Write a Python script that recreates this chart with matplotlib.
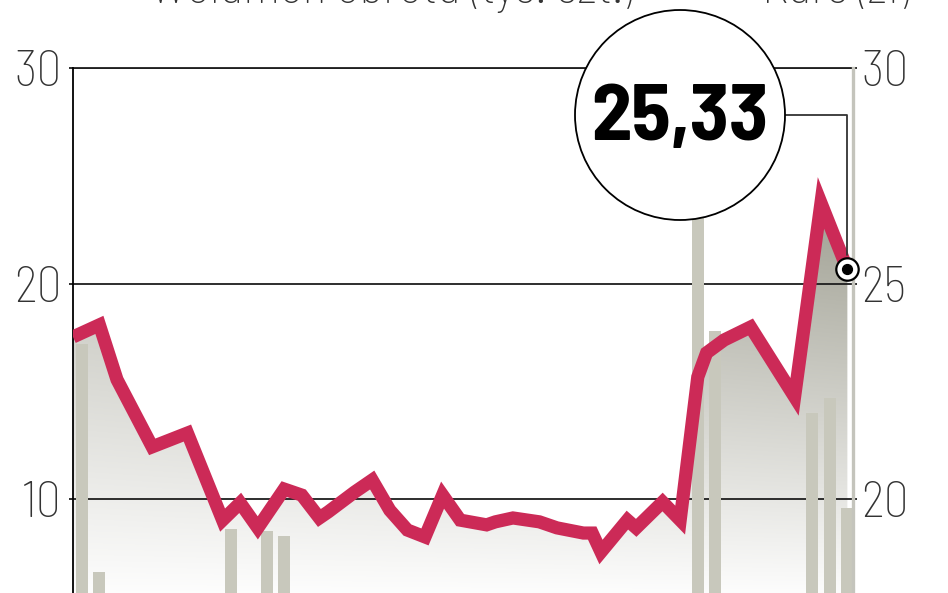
import numpy as np
from matplotlib import pyplot as plt
from matplotlib import rcParams
from matplotlib import font_manager as fontm
from matplotlib.patches import Ellipse

# DIN-like faces if present, otherwise something narrow-ish
names = {f.name for f in fontm.fontManager.ttflist}

def pick(cands):
  for c in cands:
    if c in names:
      return c
  return 'DejaVu Sans'

FACE = pick(['Barlow Semi Condensed', 'Barlow Condensed', 'Roboto Condensed',
             'Liberation Sans Narrow', 'Roboto'])
CONDENSED = FACE not in ('Roboto', 'DejaVu Sans')
TICK_SIZE = 36 if CONDENSED else 29
HEAD_SIZE = 36 if CONDENSED else 25
BIG_SIZE = 58 if CONDENSED else 46

rcParams.update({
  'font.family': [FACE, 'DejaVu Sans'],
  'axes.linewidth': 1.3,
})

RED = '#cc2a57'
BAR = '#c8c8bc'
GRID = '#1e1e1e'
TICK = '#333333'

# session number, share price (zl) -> right axis
days = [0, 3, 5, 9, 13, 17, 19, 21, 24, 26, 28, 29, 32, 34, 36, 38, 40, 42, 44,
        47, 48, 50, 53, 55, 58, 59, 60, 63, 64, 67, 69, 71, 72, 74, 77, 82, 85, 88]
kurs = [23.76, 24.04, 22.77, 21.21, 21.53, 19.51, 19.91, 19.33, 20.23, 20.09,
        19.56, 19.70, 20.16, 20.44, 19.74, 19.28, 19.12, 20.09, 19.51, 19.40,
        19.47, 19.56, 19.47, 19.33, 19.21, 19.21, 18.77, 19.51, 19.33, 19.93,
        19.51, 22.83, 23.39, 23.69, 23.99, 22.37, 26.87, 25.33]

# volume (tys. szt.) -> left axis
vol_days = [1, 3, 18, 22, 24, 71, 73, 84, 86, 88]
volume = [17.2, 6.6, 8.6, 8.5, 8.3, 24.0, 17.8, 14.0, 14.7, 9.6]

left_ticks = [10, 20, 30]
right_ticks = [20, 25, 30]
XMAX = 88.64

fig = plt.figure(figsize=(9.48, 5.93), dpi=100)
fig.patch.set_facecolor('white')

# axes runs below the cropped bottom edge, as in the original cut-out
rect = [73 / 948, 1 - 714.5 / 593, 780 / 948, 646.5 / 593]
ax2 = fig.add_axes(rect)          # price: fill + grid
ax = ax2.twinx()                  # volume bars
ax3 = ax2.twinx()                 # price line on top
ax2.set_zorder(1)
ax.set_zorder(2)
ax3.set_zorder(3)
ax.patch.set_visible(False)
ax3.patch.set_visible(False)

for a in (ax, ax2, ax3):
  a.set_xlim(0, XMAX)
  a.set_xticks([])
  for s in a.spines.values():
    s.set_visible(False)

ax2.set_ylim(15, 30)
ax3.set_ylim(15, 30)
ax.set_ylim(0, 30)

# gradient area under the price line
poly = ax2.fill_between(days, kurs, 15, facecolor='none', edgecolor='none')
ny, nx = 300, 120
Y, X = np.mgrid[15:30:complex(0, ny), 0:XMAX:complex(0, nx)]
t = np.clip((Y - 17.6) / (26.5 - 17.6), 0, 1) * (0.7 + 0.3 * X / XMAX)
top = np.array([0.64, 0.64, 0.59])
img = 1 - t[..., None] * (1 - top)
im = ax2.imshow(img, extent=[0, XMAX, 15, 30], origin='lower', aspect='auto',
                interpolation='bilinear', zorder=1)
im.set_clip_path(poly.get_paths()[0], transform=ax2.transData)

ax2.set_yticks(right_ticks)
ax2.grid(axis='y', color=GRID, linewidth=1.3, zorder=2)
ax2.set_axisbelow(False)
ax2.tick_params(axis='y', which='both', left=True, right=False, labelleft=False,
                length=3, width=1.3, color=GRID)
ax2.spines['top'].set_visible(True)
ax2.spines['top'].set_color(GRID)

# volume bars
ax.bar(vol_days, volume, width=1.36, color=BAR, zorder=3)
ax.yaxis.tick_left()
ax.set_yticks(left_ticks)
ax.tick_params(axis='y', length=0, pad=8, labelsize=TICK_SIZE, labelcolor=TICK)
ax.spines['left'].set_visible(True)
ax.spines['left'].set_color('black')

# price line and right labels
ax3.plot(days, kurs, color=RED, linewidth=9.5, solid_joinstyle='miter',
         solid_capstyle='butt', zorder=4)
ax3.yaxis.tick_right()
ax3.set_yticks(right_ticks)
ax3.tick_params(axis='y', length=3, width=1.3, color=GRID, pad=3,
                labelsize=TICK_SIZE, labelcolor=TICK)
ax3.spines['right'].set_visible(True)
ax3.spines['right'].set_color('#c4c4bc')
ax3.spines['right'].set_linewidth(2.4)
for lab in ax.get_yticklabels() + ax3.get_yticklabels():
  lab.set_fontweight('light')

ax3.scatter([days[-1]], [kurs[-1]], s=260, facecolor='white', edgecolor='black',
            linewidth=1.6, zorder=6, clip_on=False)
ax3.scatter([days[-1]], [kurs[-1]], s=50, color='black', zorder=7, clip_on=False)

# callout circle with the last price
cx, cy = 680 / 948, 1 - 115 / 593
ax3.add_patch(Ellipse((cx, cy), 210 / 948, 210 / 593, transform=fig.transFigure,
                      facecolor='white', edgecolor='black', linewidth=1.3,
                      zorder=8, clip_on=False))
ax3.text(cx, cy - 5 / 593, f'{kurs[-1]:.2f}'.replace('.', ','),
         transform=fig.transFigure, ha='center', va='center', fontsize=BIG_SIZE,
         fontweight='bold', color='black', zorder=9)
ax3.annotate('', xy=(days[-1], kurs[-1]), xycoords='data',
             xytext=(cx + 105 / 948, cy), textcoords='figure fraction',
             arrowprops=dict(arrowstyle='-', color='#333333', linewidth=1.3,
                             connectionstyle='angle,angleA=0,angleB=90',
                             shrinkA=0, shrinkB=10),
             zorder=5)

# headings, mostly cut off by the top edge
fig.text(150 / 948, 1 - 3 / 593, 'Wolumen obrotu (tys. szt.)', fontsize=HEAD_SIZE,
         fontweight='light', color=TICK, va='baseline', ha='left')
fig.text(762 / 948, 1 - 3 / 593, 'Kurs (zł)', fontsize=HEAD_SIZE,
         fontweight='light', color=TICK, va='baseline', ha='left')

fig.savefig('out.png', dpi=100, facecolor='white')
